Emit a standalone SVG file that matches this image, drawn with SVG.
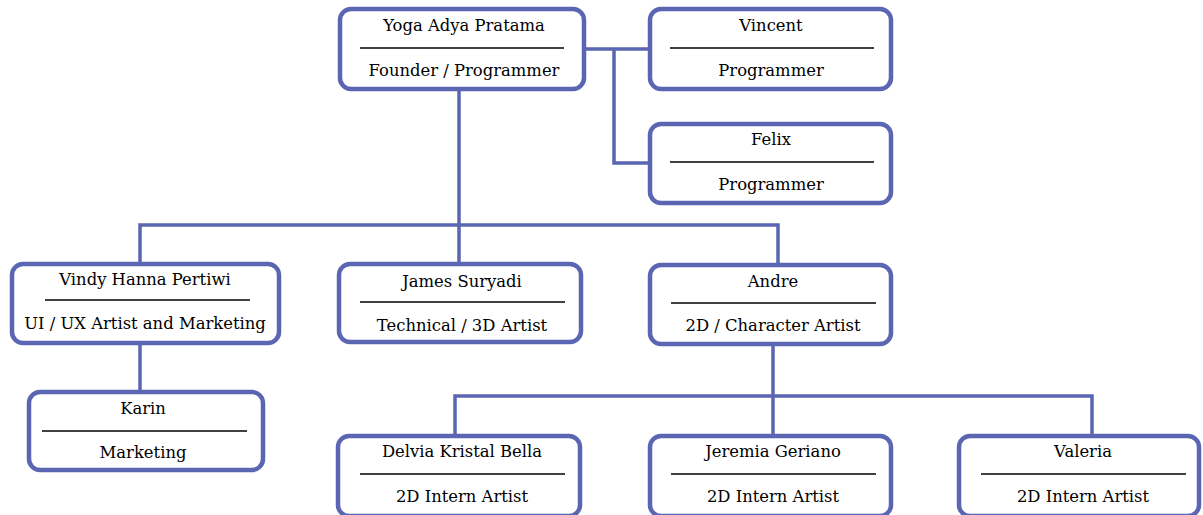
<svg xmlns="http://www.w3.org/2000/svg" width="1203" height="515" viewBox="0 0 1203 515">
<style>
.box{fill:#fff;stroke:#5b66b3;stroke-width:4.5}
.sep{stroke:#000;stroke-width:1.5}
.con{fill:none;stroke:#5b66b3;stroke-width:3.5}
text{font-family:"DejaVu Serif","Liberation Serif",serif;font-size:16.4px;fill:#000;text-anchor:middle}
</style>
<rect width="1203" height="515" fill="#fff"/>
<g id="connectors">
<path class="con" d="M586 49H648M614 49V163H648"/>
<path class="con" d="M459 90V262M140 262V225H778V263"/>
<path class="con" d="M140 344V390"/>
<path class="con" d="M773 345V434M455 434V396H1092V434"/>
</g>
<g id="yoga">
<rect class="box" x="340" y="9" width="244" height="80" rx="11"/>
<text x="464" y="31">Yoga Adya Pratama</text>
<line class="sep" x1="360" y1="48" x2="564" y2="48"/>
<text x="464" y="76">Founder / Programmer</text>
</g>
<g id="vincent">
<rect class="box" x="650" y="9" width="241" height="80" rx="11"/>
<text x="771" y="31">Vincent</text>
<line class="sep" x1="670" y1="48" x2="874" y2="48"/>
<text x="771" y="76">Programmer</text>
</g>
<g id="felix">
<rect class="box" x="650" y="124" width="241" height="79" rx="11"/>
<text x="771" y="145">Felix</text>
<line class="sep" x1="670" y1="162" x2="874" y2="162"/>
<text x="771" y="190">Programmer</text>
</g>
<g id="vindy">
<rect class="box" x="12" y="264" width="267" height="79" rx="11"/>
<text x="145" y="285">Vindy Hanna Pertiwi</text>
<line class="sep" x1="45" y1="300" x2="250" y2="300"/>
<text x="145" y="329">UI / UX Artist and Marketing</text>
</g>
<g id="james">
<rect class="box" x="339" y="264" width="242" height="78" rx="11"/>
<text x="462" y="287">James Suryadi</text>
<line class="sep" x1="360" y1="302" x2="565" y2="302"/>
<text x="462" y="331">Technical / 3D Artist</text>
</g>
<g id="andre">
<rect class="box" x="650" y="265" width="241" height="79" rx="11"/>
<text x="773" y="287">Andre</text>
<line class="sep" x1="671" y1="303" x2="876" y2="303"/>
<text x="773" y="331">2D / Character Artist</text>
</g>
<g id="karin">
<rect class="box" x="29" y="392" width="234" height="78" rx="11"/>
<text x="143" y="414">Karin</text>
<line class="sep" x1="42" y1="431" x2="247" y2="431"/>
<text x="143" y="458">Marketing</text>
</g>
<g id="delvia">
<rect class="box" x="338" y="436" width="242" height="80" rx="11"/>
<text x="462" y="457">Delvia Kristal Bella</text>
<line class="sep" x1="360" y1="474" x2="565" y2="474"/>
<text x="462" y="502">2D Intern Artist</text>
</g>
<g id="jeremia">
<rect class="box" x="650" y="436" width="241" height="80" rx="11"/>
<text x="773" y="457">Jeremia Geriano</text>
<line class="sep" x1="671" y1="474" x2="876" y2="474"/>
<text x="773" y="502">2D Intern Artist</text>
</g>
<g id="valeria">
<rect class="box" x="959" y="436" width="240" height="80" rx="11"/>
<text x="1083" y="457">Valeria</text>
<line class="sep" x1="981" y1="474" x2="1186" y2="474"/>
<text x="1083" y="502">2D Intern Artist</text>
</g>
</svg>
